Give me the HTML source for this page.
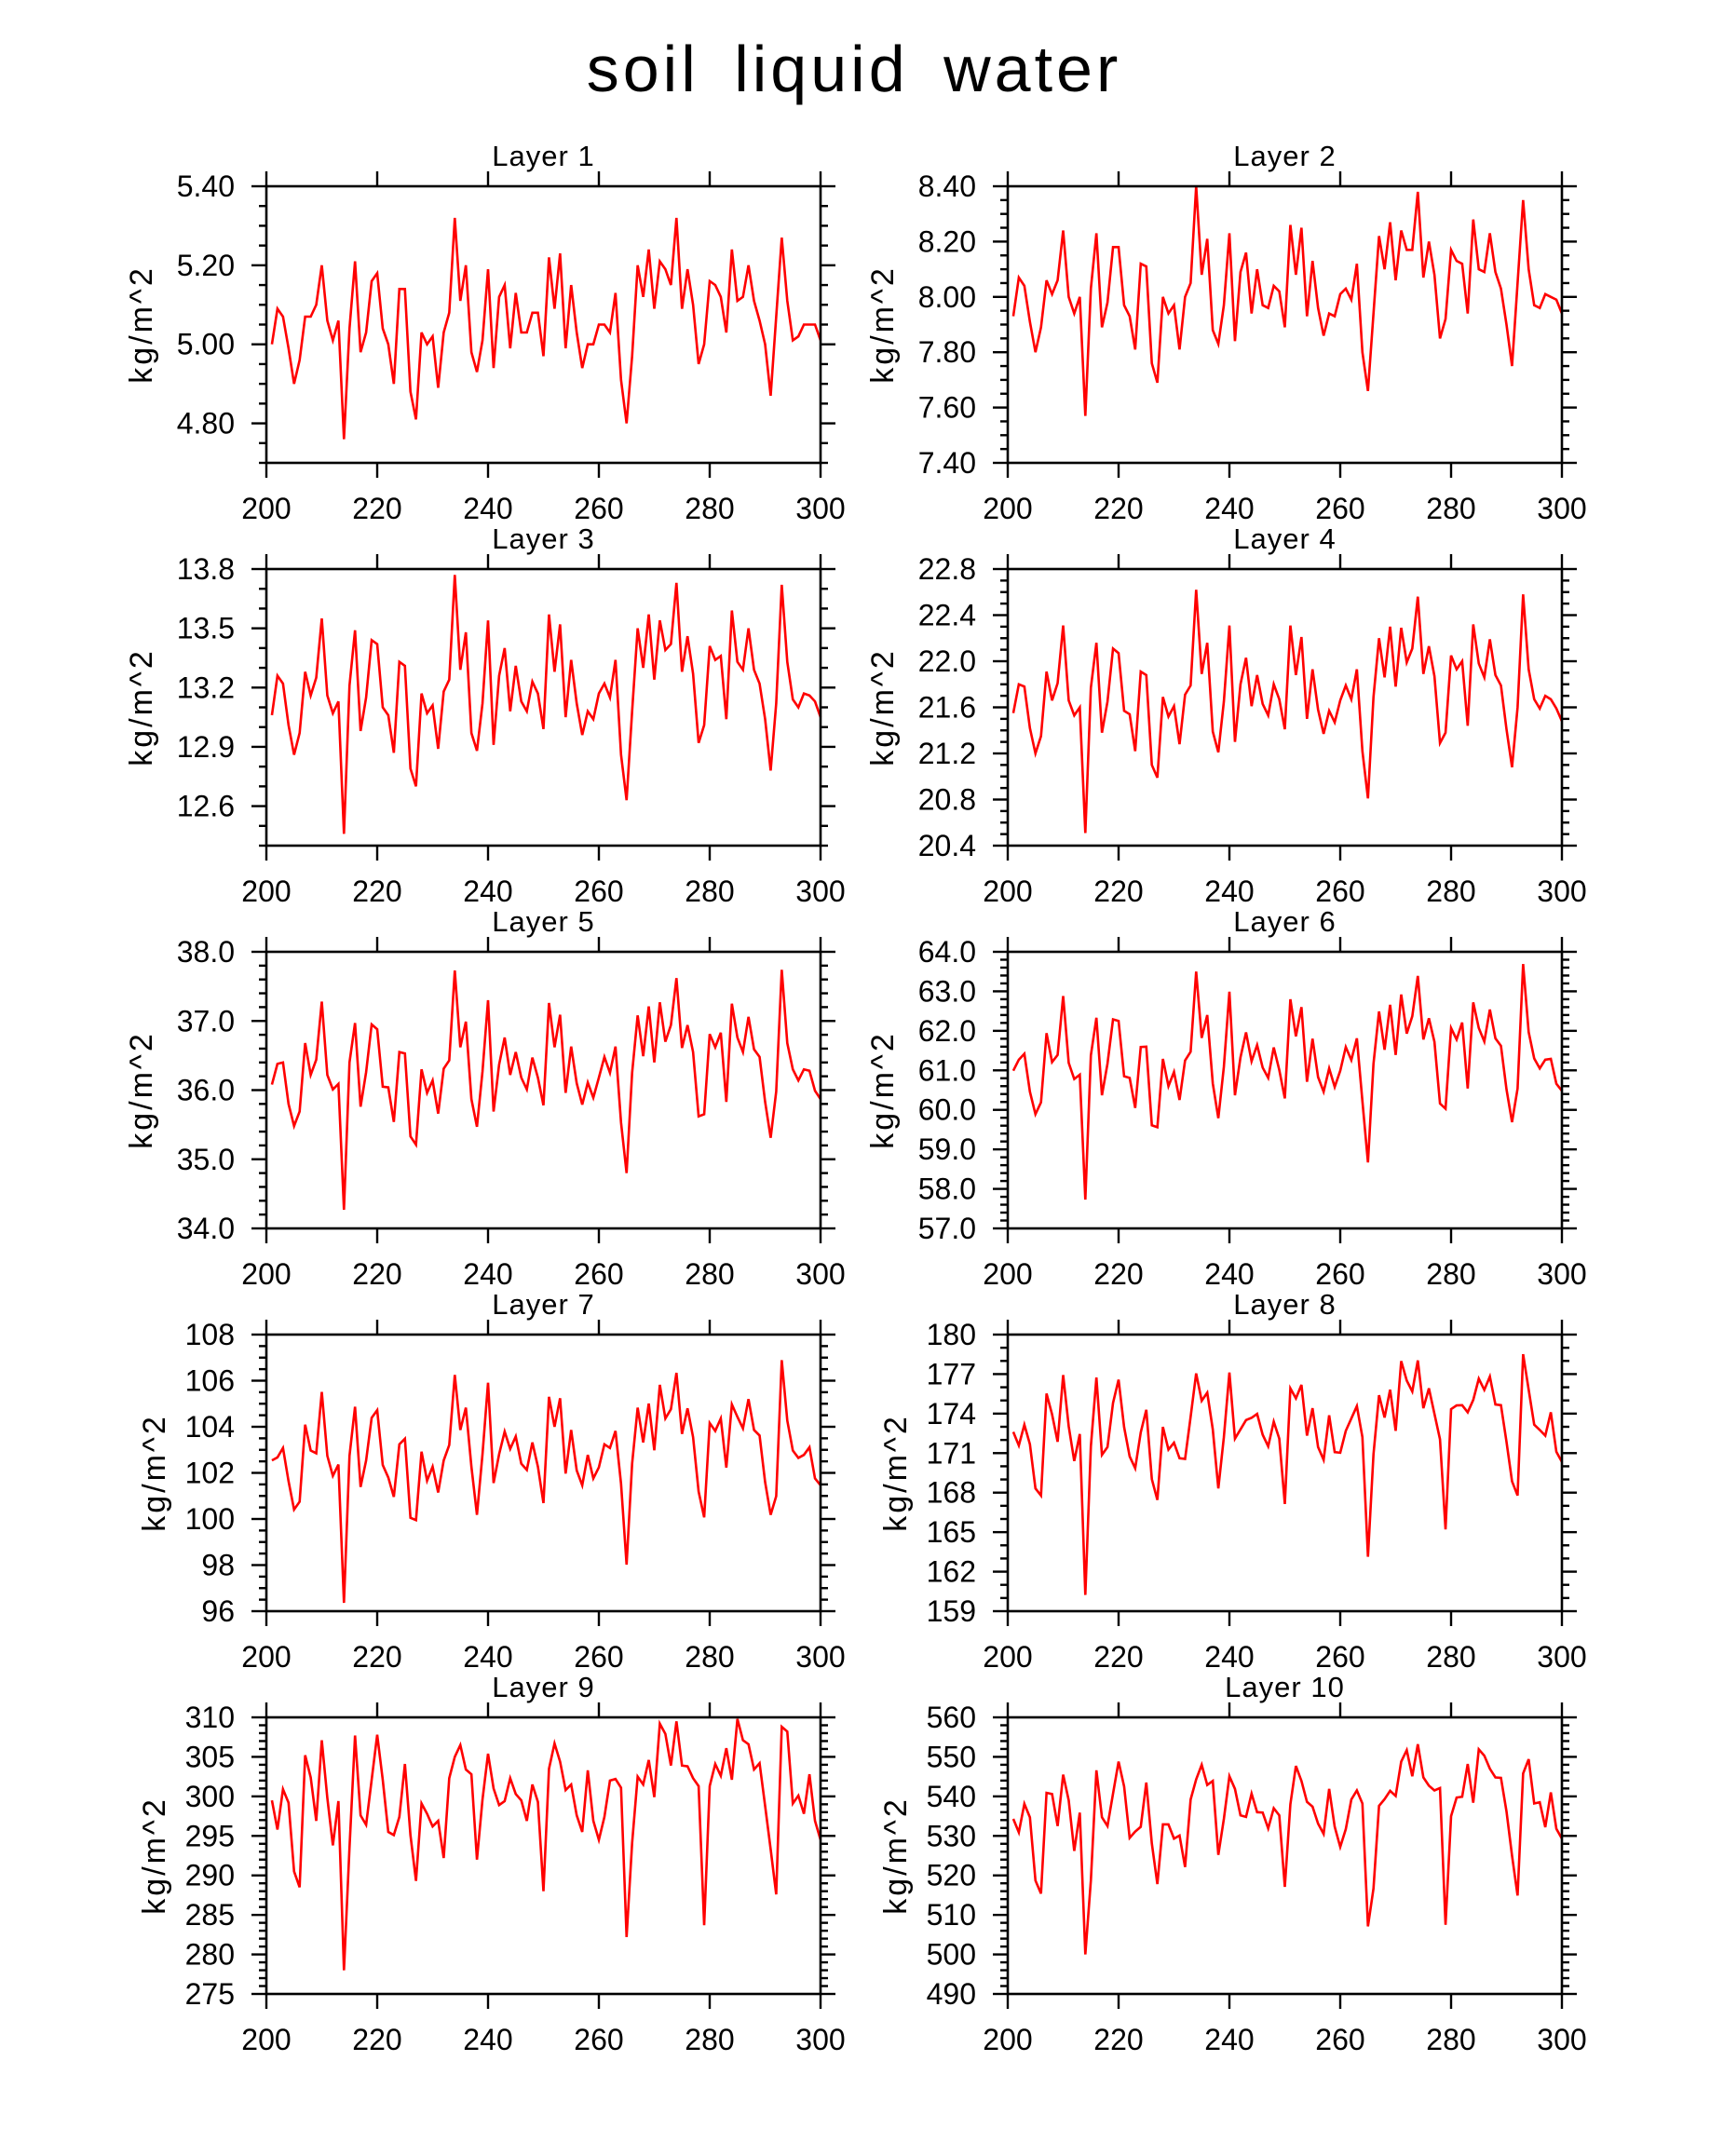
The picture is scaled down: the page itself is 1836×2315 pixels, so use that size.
<!DOCTYPE html>
<html>
<head>
<meta charset="utf-8">
<style>
  html, body { margin: 0; padding: 0; background: #fff; }
  body { width: 1836px; height: 2310px; overflow: hidden; }
  svg text { font-family: "Liberation Sans", "DejaVu Sans", sans-serif; fill: #000; }
</style>
</head>
<body>
<svg id="chart" xmlns="http://www.w3.org/2000/svg" width="1836" height="2310" viewBox="0 0 1836 2310">
  <rect x="0" y="0" width="1836" height="2310" fill="#fff"/>
  <text x="917" y="98" text-anchor="middle" font-size="70" letter-spacing="4" word-spacing="14">soil liquid water</text>
</svg>
<script>
const layerTitles = ["Layer 1","Layer 2","Layer 3","Layer 4","Layer 5","Layer 6","Layer 7","Layer 8","Layer 9","Layer 10"];
const xTickValues = [200, 220, 240, 260, 280, 300];
const days = [];
for (let d = 201; d <= 300; d++) days.push(d);

const layer1Values = [5.00,5.09,5.07,4.99,4.90,4.96,5.07,5.07,5.10,5.20,
5.06,5.01,5.06,4.76,5.04,5.21,4.98,5.03,5.16,5.18,
5.04,5.00,4.90,5.14,5.14,4.88,4.81,5.03,5.00,5.02,
4.89,5.03,5.08,5.32,5.11,5.20,4.98,4.93,5.01,5.19,
4.94,5.12,5.15,4.99,5.13,5.03,5.03,5.08,5.08,4.97,
5.22,5.09,5.23,4.99,5.15,5.03,4.94,5.00,5.00,5.05,
5.05,5.03,5.13,4.91,4.80,4.97,5.20,5.12,5.24,5.09,
5.21,5.19,5.15,5.32,5.09,5.19,5.10,4.95,5.00,5.16,
5.15,5.12,5.03,5.24,5.11,5.12,5.20,5.11,5.06,5.00,
4.87,5.07,5.27,5.11,5.01,5.02,5.05,5.05,5.05,5.01];
const layer2Values = [7.93,8.07,8.04,7.91,7.80,7.89,8.06,8.01,8.06,8.24,
8.00,7.94,8.00,7.57,8.03,8.23,7.89,7.98,8.18,8.18,
7.97,7.93,7.81,8.12,8.11,7.76,7.69,8.00,7.94,7.97,
7.81,8.00,8.05,8.40,8.08,8.21,7.88,7.83,7.97,8.23,
7.84,8.09,8.16,7.94,8.10,7.97,7.96,8.04,8.02,7.89,
8.26,8.08,8.25,7.93,8.13,7.96,7.86,7.94,7.93,8.01,
8.03,7.99,8.12,7.80,7.66,7.94,8.22,8.10,8.27,8.06,
8.24,8.17,8.17,8.38,8.07,8.20,8.08,7.85,7.92,8.17,
8.13,8.12,7.94,8.28,8.10,8.09,8.23,8.09,8.03,7.90,
7.75,8.05,8.35,8.10,7.97,7.96,8.01,8.00,7.99,7.94];
const layer3Values = [13.06,13.26,13.22,13.01,12.86,12.97,13.28,13.16,13.25,13.55,
13.16,13.07,13.13,12.46,13.21,13.49,12.98,13.15,13.44,13.42,
13.10,13.06,12.87,13.33,13.31,12.79,12.70,13.17,13.07,13.11,
12.89,13.18,13.24,13.77,13.29,13.48,12.97,12.88,13.12,13.54,
12.91,13.26,13.40,13.08,13.31,13.13,13.08,13.23,13.17,12.99,
13.57,13.28,13.52,13.05,13.34,13.12,12.96,13.08,13.04,13.17,
13.22,13.15,13.34,12.86,12.63,13.08,13.50,13.30,13.57,13.24,
13.54,13.39,13.42,13.73,13.28,13.46,13.27,12.92,13.01,13.41,
13.34,13.36,13.04,13.59,13.33,13.29,13.50,13.29,13.22,13.04,
12.78,13.12,13.72,13.33,13.14,13.10,13.17,13.16,13.13,13.05];
const layer4Values = [21.55,21.80,21.78,21.42,21.20,21.35,21.91,21.66,21.81,22.31,
21.66,21.53,21.60,20.51,21.77,22.16,21.38,21.65,22.11,22.07,
21.57,21.54,21.22,21.91,21.88,21.10,20.99,21.69,21.52,21.61,
21.28,21.71,21.79,22.62,21.89,22.16,21.39,21.21,21.65,22.31,
21.30,21.80,22.03,21.61,21.88,21.63,21.53,21.80,21.67,21.41,
22.31,21.88,22.21,21.50,21.93,21.58,21.37,21.57,21.47,21.66,
21.79,21.67,21.93,21.22,20.81,21.69,22.20,21.86,22.30,21.78,
22.29,21.99,22.11,22.56,21.89,22.13,21.87,21.29,21.38,22.05,
21.93,22.00,21.44,22.32,21.98,21.86,22.19,21.88,21.79,21.41,
21.08,21.60,22.58,21.93,21.67,21.59,21.70,21.67,21.59,21.48];
const layer5Values = [36.08,36.38,36.40,35.80,35.48,35.69,36.68,36.22,36.44,37.28,
36.22,36.01,36.09,34.27,36.40,36.97,35.76,36.26,36.95,36.88,
36.05,36.04,35.54,36.55,36.53,35.33,35.21,36.30,35.96,36.14,
35.66,36.31,36.43,37.73,36.62,36.99,35.87,35.47,36.27,37.30,
35.69,36.37,36.76,36.22,36.55,36.18,36.01,36.47,36.18,35.78,
37.26,36.62,37.09,35.96,36.63,36.10,35.79,36.11,35.89,36.18,
36.48,36.25,36.63,35.53,34.80,36.25,37.08,36.49,37.21,36.40,
37.27,36.70,36.94,37.62,36.61,36.94,36.55,35.62,35.65,36.81,
36.62,36.83,35.83,37.25,36.76,36.55,37.06,36.59,36.48,35.83,
35.31,35.98,37.74,36.68,36.30,36.14,36.30,36.28,35.99,35.87];
const layer6Values = [60.99,61.27,61.42,60.46,59.89,60.19,61.94,61.21,61.39,62.88,
61.19,60.78,60.89,57.73,61.38,62.33,60.37,61.17,62.29,62.25,
60.85,60.81,60.05,61.59,61.60,59.61,59.56,61.29,60.60,60.96,
60.25,61.25,61.47,63.50,61.82,62.40,60.67,59.79,61.09,62.99,
60.37,61.33,61.96,61.23,61.64,61.07,60.81,61.58,61.01,60.29,
62.80,61.86,62.60,60.71,61.80,60.83,60.46,61.05,60.58,60.99,
61.59,61.26,61.81,60.22,58.67,61.17,62.49,61.52,62.66,61.39,
62.92,61.93,62.37,63.39,61.78,62.32,61.72,60.16,60.03,62.07,
61.78,62.21,60.54,62.72,62.07,61.73,62.54,61.81,61.62,60.52,
59.69,60.54,63.69,61.97,61.30,61.05,61.27,61.29,60.66,60.48];
const layer7Values = [102.54,102.67,103.08,101.64,100.41,100.75,104.09,102.97,102.85,105.51,
102.74,101.87,102.36,96.36,102.74,104.87,101.39,102.54,104.39,104.72,
102.34,101.80,100.96,103.24,103.48,100.05,99.95,102.92,101.66,102.27,
101.15,102.54,103.21,106.25,103.86,104.83,102.27,100.18,102.81,105.91,
101.56,102.81,103.79,103.04,103.58,102.40,102.13,103.32,102.27,100.69,
105.30,104.00,105.24,101.97,103.86,102.11,101.46,102.78,101.76,102.24,
103.24,103.08,103.82,101.53,98.02,102.40,104.83,103.32,105.01,102.98,
105.82,104.36,104.76,106.34,103.69,104.80,103.55,101.19,100.07,104.16,
103.82,104.36,102.23,104.97,104.43,103.93,105.20,103.86,103.62,101.60,
100.18,100.99,106.89,104.27,102.97,102.65,102.78,103.11,101.76,101.46];
const layer8Values = [172.61,171.58,173.16,171.67,168.32,167.78,175.52,173.94,171.86,176.93,
173.04,170.40,172.45,160.23,171.51,176.74,170.87,171.46,174.81,176.58,
172.97,170.75,169.85,172.57,174.29,169.03,167.45,172.99,171.27,171.79,
170.61,170.56,173.75,177.05,174.97,175.59,172.80,168.32,172.21,177.12,
172.10,172.80,173.51,173.68,173.98,172.40,171.51,173.39,172.10,167.14,
175.92,175.16,176.18,172.33,174.41,171.46,170.49,173.87,171.08,171.03,
172.69,173.63,174.57,172.21,163.13,170.92,175.40,173.70,175.82,172.69,
177.99,176.51,175.68,178.04,174.41,175.92,173.98,172.05,165.21,174.34,
174.62,174.64,174.10,175.04,176.65,175.80,176.81,174.69,174.64,171.86,
168.86,167.78,178.51,175.82,173.16,172.76,172.33,174.10,171.10,170.33];
const layer9Values = [299.5,295.8,300.9,299.2,290.5,288.5,305.2,302.4,296.9,307.1,
299.8,293.8,299.4,278.0,293.5,307.7,297.6,296.4,302.1,307.8,
302.1,295.5,295.1,297.4,304.1,295.1,289.3,299.1,297.8,296.2,
296.9,292.2,302.3,305.0,306.5,303.4,302.8,292.0,299.6,305.4,
301.0,298.9,299.4,302.3,300.3,299.5,296.9,301.5,299.3,288.0,
303.5,306.7,304.4,300.8,301.5,297.6,295.5,303.3,296.9,294.5,
297.4,302.0,302.2,301.1,282.2,294.1,302.5,301.5,304.6,299.9,
309.2,307.9,303.9,309.5,303.9,303.8,302.3,301.3,283.7,301.3,
304.1,302.6,306.1,302.1,309.8,307.1,306.6,303.4,304.2,298.8,
293.3,287.6,308.8,308.2,299.1,300.1,297.8,302.8,296.9,294.5];
const layer10Values = [534.3,530.9,538.1,534.7,518.7,515.4,540.9,540.6,532.5,545.5,
539.0,526.2,535.9,500.0,518.7,546.6,534.7,532.5,540.7,548.8,
542.5,529.5,531.1,532.3,543.5,528.1,517.8,532.9,532.9,529.3,
530.1,522.1,539.2,544.3,548.0,542.9,543.9,525.2,534.3,545.1,
541.9,535.2,534.8,540.7,536.0,535.9,531.9,537.0,535.2,517.1,
538.0,547.7,543.9,538.6,537.4,533.1,530.5,541.9,532.3,527.2,
531.7,539.2,541.5,538.2,507.1,516.7,537.6,539.3,541.4,540.1,
548.8,551.7,545.1,553.2,544.8,542.7,541.5,542.1,507.5,535.0,
539.7,539.9,548.2,538.4,551.9,550.3,547.0,544.8,544.7,536.2,
525.0,514.9,545.8,549.4,538.2,538.5,532.2,541.0,531.8,529.3];

const allLayerValues = [layer1Values,layer2Values,layer3Values,layer4Values,layer5Values,
  layer6Values,layer7Values,layer8Values,layer9Values,layer10Values];

// axis configuration: [ymin, ymax, major step, minor step, first major, decimals]
const yAxisConfig = [
  [4.7, 5.4, 0.2, 0.05, 4.8, 2],
  [7.4, 8.4, 0.2, 0.05, 7.4, 2],
  [12.4, 13.8, 0.3, 0.1, 12.6, 1],
  [20.4, 22.8, 0.4, 0.1, 20.4, 1],
  [34, 38, 1, 0.2, 34, 1],
  [57, 64, 1, 0.2, 57, 1],
  [96, 108, 2, 0.5, 96, 0],
  [159, 180, 3, 1, 159, 0],
  [275, 310, 5, 1, 275, 0],
  [490, 560, 10, 2, 490, 0]
];

const NS = "http://www.w3.org/2000/svg";
const svg = document.getElementById("chart");
const colLeft = [286, 1082];
const rowTop = [200, 611, 1022, 1433, 1844];
const PW = 595, PH = 297;

function mk(tag, attrs, parent) {
  const e = document.createElementNS(NS, tag);
  for (const k in attrs) e.setAttribute(k, attrs[k]);
  (parent || svg).appendChild(e);
  return e;
}

for (let i = 0; i < 10; i++) {
  const L = colLeft[i % 2], T = rowTop[Math.floor(i / 2)];
  const R = L + PW, B = T + PH;
  const [ymin, ymax, major, minor, first, dec] = yAxisConfig[i];
  const values = allLayerValues[i];
  const xs = v => L + (v - 200) / 100 * PW;
  const ys = v => B - (v - ymin) / (ymax - ymin) * PH;

  const g = mk("g", {});
  
  

  const t = mk("text", {x: (L + R) / 2, y: T - 22, "text-anchor": "middle", "font-size": 31, "letter-spacing": 1}, g);
  t.textContent = layerTitles[i];
  
  

  // data line
  let d = "";
  for (let k = 0; k < values.length; k++) {
    d += (k ? "L" : "M") + xs(days[k]).toFixed(2) + "," + ys(values[k]).toFixed(2);
  }
  const line = mk("path", {d: d, fill: "none", stroke: "#ff0000", "stroke-width": 2.6, "stroke-linejoin": "miter"}, g);
  
  

  // frame
  const frame = mk("rect", {x: L, y: T, width: PW, height: PH, fill: "none", stroke: "#000", "stroke-width": 2.6}, g);
  
  

  // y ticks
  const ticks = mk("g", {stroke: "#000", "stroke-width": 2.4}, g);
  
  
  const nMin = Math.round((ymax - ymin) / minor);
  for (let k = 0; k <= nMin; k++) {
    const v = ymin + k * minor;
    const y = ys(v);
    const isMajor = Math.abs(((v - first) / major) - Math.round((v - first) / major)) < 1e-6 && v >= first - 1e-9;
    const len = isMajor ? 16 : 8;
    mk("line", {x1: L - len, y1: y, x2: L, y2: y}, ticks);
    mk("line", {x1: R, y1: y, x2: R + len, y2: y}, ticks);
    if (isMajor) {
      const lab = mk("text", {x: L - 34, y: y + 11, "text-anchor": "end", "font-size": 32, stroke: "none"}, g);
      lab.textContent = v.toFixed(dec);
      
      
    }
  }

  // x ticks
  const xt = mk("g", {stroke: "#000", "stroke-width": 2.4}, g);
  
  
  for (const v of xTickValues) {
    const x = xs(v);
    mk("line", {x1: x, y1: T - 16, x2: x, y2: T}, xt);
    mk("line", {x1: x, y1: B, x2: x, y2: B + 16}, xt);
    const lab = mk("text", {x: x, y: B + 60, "text-anchor": "middle", "font-size": 32}, g);
    lab.textContent = String(v);
    
    
  }

  // y axis title
  const off = dec > 0 ? 135 : 121;
  const cx = L - off, cy = (T + B) / 2;
  const yt = mk("text", {x: cx, y: cy, "text-anchor": "middle", "font-size": 34, "letter-spacing": 3,
    transform: "rotate(-90 " + cx + " " + cy + ")", dy: 12}, g);
  yt.textContent = "kg/m^2";
  
  
}
</script>
</body>
</html>
